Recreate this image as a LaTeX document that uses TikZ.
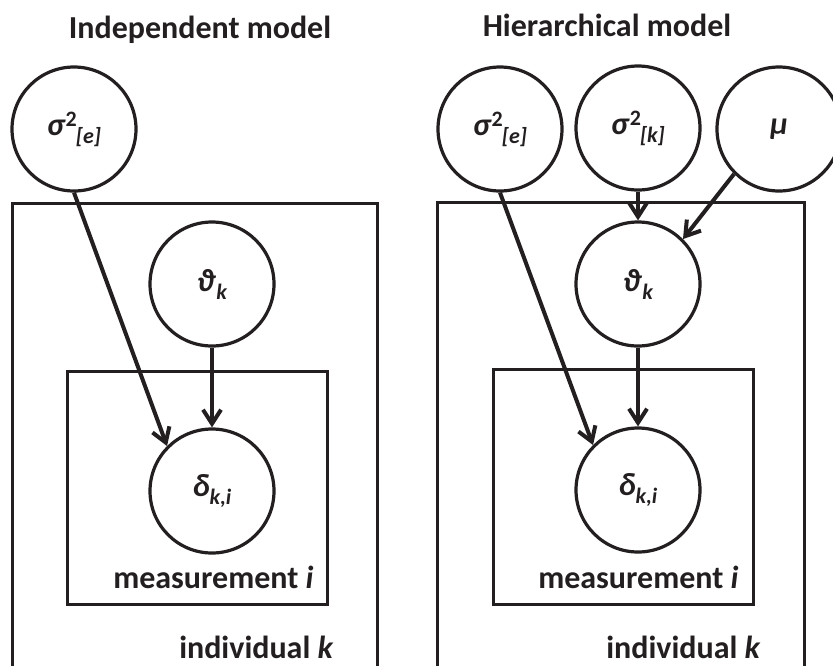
\documentclass[tikz,border=0pt]{standalone}
\usepackage{fontspec}
\setmainfont{Carlito}
\usetikzlibrary{arrows.meta, positioning}
\definecolor{cink}{HTML}{231F20}
\tikzset{
  every picture/.style={font=\bfseries\fontsize{16}{19}\selectfont, line width=1.5pt, x=0.5pt, y=-0.5pt},
  var/.style={circle, draw=cink, text=cink, line width=1.6pt, minimum size=62pt, inner sep=0pt},
  plate/.style={draw=cink, line width=1.5pt},
  arrow/.style={-{Straight Barb[length=7pt, width=9pt]}, draw=cink, line width=2pt},
  title/.style={text=cink, anchor=base},
  note/.style={text=cink, anchor=base east, inner sep=0pt},
}
\newcommand{\gk}[1]{\textit{#1}}
\newcommand{\lo}[1]{\raisebox{-4pt}{\fontsize{11}{11}\selectfont\gk{#1}}}
\newcommand{\hi}[1]{\raisebox{4.5pt}{\fontsize{11}{11}\selectfont #1}}

\begin{document}
\begin{tikzpicture}
  \useasboundingbox (0,0) rectangle (833,665);
  % independent model
  \node[title] (t1) at (200,38) {Independent model};
  \draw[plate] (12,690) -- (12,203) -- (377,203) -- (377,690);
  \draw[plate] (67,371) rectangle (327,604);
  \node[var] (se1) at (74,129) {\gk{σ}\hi{2}\kern-0.5pt\lo{[e]}};
  \node[var] (th1) at (212,284) {\gk{ϑ}\lo{k}};
  \node[var] (d1) at (212,491) {\gk{δ}\lo{k,i}};
  \node[note] (m1) at (315,588) {measurement \gk{i}};
  \node[note] (n1) at (335,658) {individual \gk{k}};
  \draw[arrow] (se1.south) -- (d1.north west);
  \draw[arrow] (th1.south) -- (d1.north);
  % hierarchical model
  \node[title] (t2) at (607,36) {Hierarchical model};
  \draw[plate] (437,690) -- (437,202) -- (804,202) -- (804,690);
  \draw[plate] (493,369) rectangle (753,604);
  \node[var] (se2) at (500,129) {\gk{σ}\hi{2}\kern-0.5pt\lo{[e]}};
  \node[var] (sk2) at (638,128) {\gk{σ}\hi{2}\kern-0.5pt\lo{[k]}};
  \node[var] (mu2) at (779,129) {\gk{μ}};
  \node[var] (th2) at (638,284) {\gk{ϑ}\lo{k}};
  \node[var] (d2) at (638,490) {\gk{δ}\lo{k,i}};
  \node[note] (m2) at (740,588) {measurement \gk{i}};
  \node[note] (n2) at (762,658) {individual \gk{k}};
  \draw[arrow] (se2.south) -- (d2.north west);
  \draw[arrow] (sk2.south) -- (th2.north);
  \draw[arrow] (mu2.south west) -- (th2.north east);
  \draw[arrow] (th2.south) -- (d2.north);
\end{tikzpicture}
\end{document}
